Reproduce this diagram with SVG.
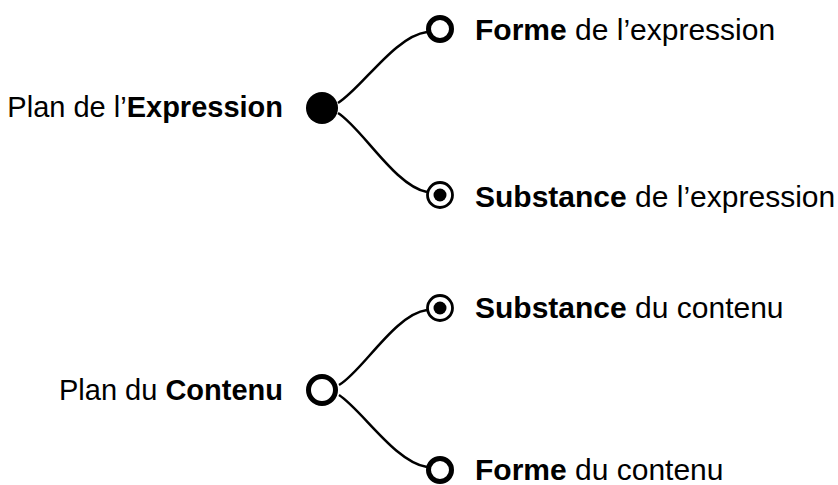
<svg xmlns="http://www.w3.org/2000/svg" width="838" height="485" viewBox="0 0 838 485">
<style>
text{font-family:"Liberation Sans",Arial,sans-serif;font-size:30px;fill:#000}
text.l{font-size:29px}
.b{font-weight:bold}
.edge{fill:none;stroke:#000;stroke-width:2.5}
.open{fill:#fff;stroke:#000;stroke-width:5}
.ring{fill:#fff;stroke:#000;stroke-width:2.8}
</style>
<rect width="838" height="485" fill="#fff"/>
<g id="connectors">
<path class="edge" d="M338,103 C362,88 395,36 427,32"/>
<path class="edge" d="M338,113 C362,128 395,186 427,192"/>
<path class="edge" d="M339,385 C362,372 395,314 427,310"/>
<path class="edge" d="M339,395 C362,410 395,462 427,467"/>
</g>
<g id="plan-expression">
<circle cx="322" cy="108" r="16" fill="#000"/>
<text class="l" x="283" y="117" text-anchor="end">Plan de l’<tspan class="b">Expression</tspan></text>
</g>
<g id="forme-expression">
<circle class="open" cx="440" cy="29" r="11.5"/>
<text x="475" y="40"><tspan class="b">Forme</tspan> de l’expression</text>
</g>
<g id="substance-expression">
<circle class="ring" cx="440" cy="195" r="12.5"/>
<circle cx="440" cy="195" r="6.5" fill="#000"/>
<text x="475" y="207"><tspan class="b">Substance</tspan> de l’expression</text>
</g>
<g id="plan-contenu">
<circle class="open" cx="322" cy="390" r="13.5"/>
<text class="l" x="283" y="400" text-anchor="end">Plan du <tspan class="b">Contenu</tspan></text>
</g>
<g id="substance-contenu">
<circle class="ring" cx="440" cy="308" r="12.5"/>
<circle cx="440" cy="308" r="6.5" fill="#000"/>
<text x="475" y="318"><tspan class="b">Substance</tspan> du contenu</text>
</g>
<g id="forme-contenu">
<circle class="open" cx="440" cy="470" r="11.5"/>
<text x="475" y="480"><tspan class="b">Forme</tspan> du contenu</text>
</g>
</svg>
